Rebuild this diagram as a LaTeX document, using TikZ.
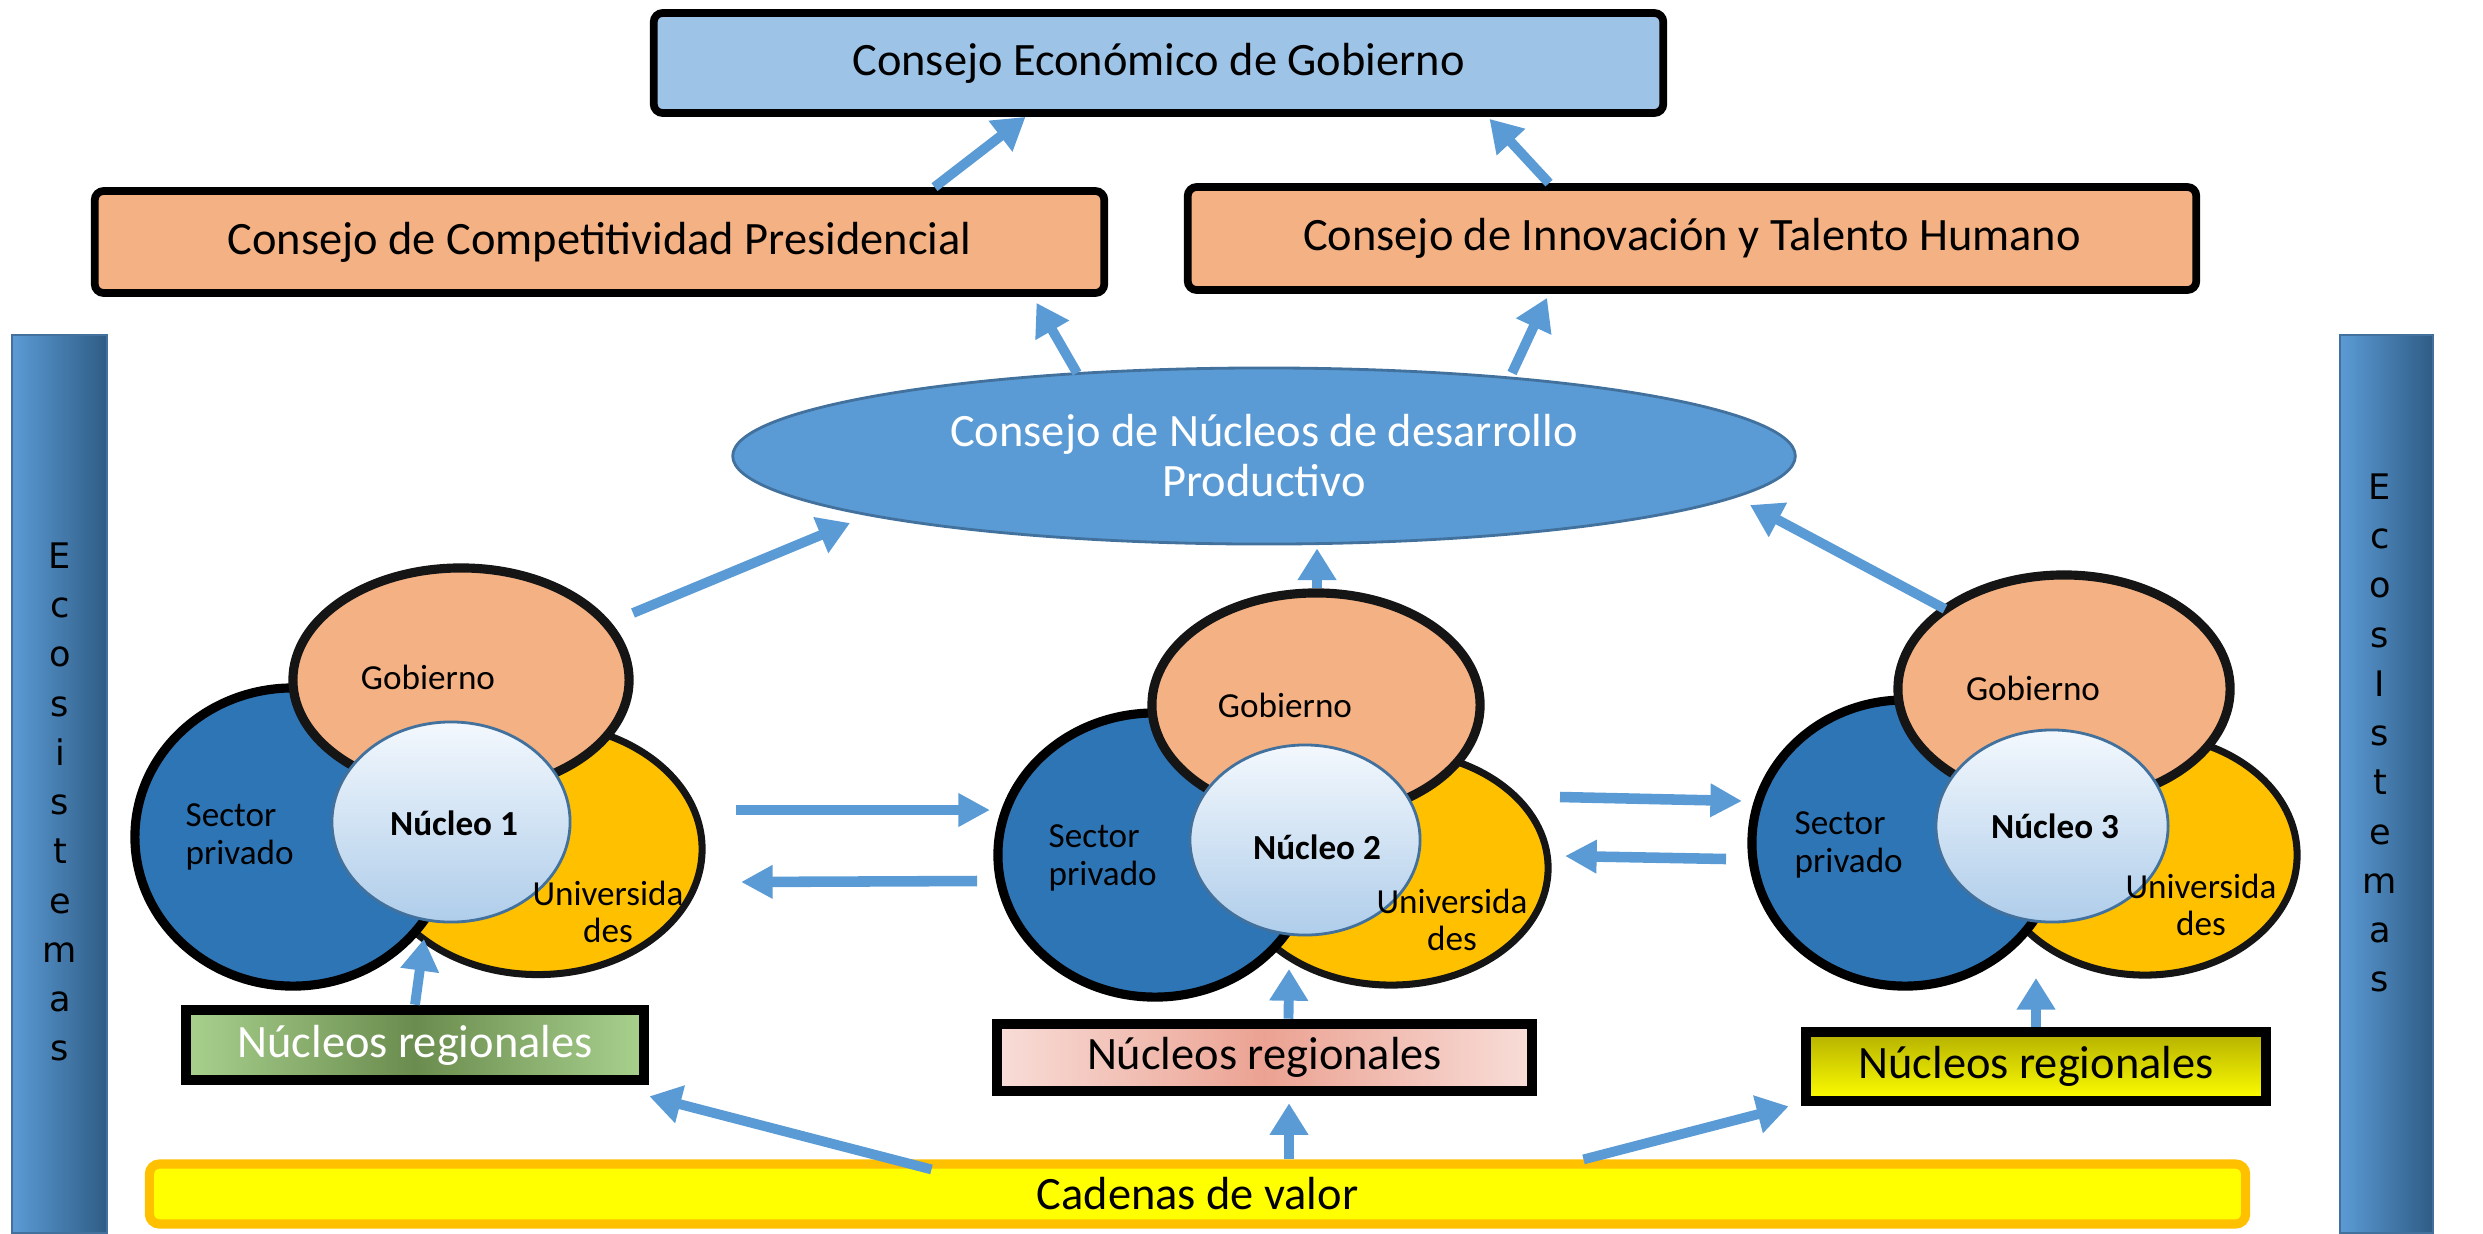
\documentclass[tikz,border=0pt]{standalone}
\usepackage{fontspec}
\setmainfont{Carlito}
\newfontfamily\ecofont{DejaVu Sans}
\usetikzlibrary{shapes.geometric,arrows.meta}
\definecolor{bluebox}{HTML}{9DC3E6}
\definecolor{orangebox}{HTML}{F4B183}
\definecolor{ellblue}{HTML}{5B9BD5}
\definecolor{ellborder}{HTML}{41719C}
\definecolor{secblue}{HTML}{2E75B6}
\definecolor{uniyellow}{HTML}{FFC000}
\definecolor{arrowblue}{HTML}{5B9BD5}
\definecolor{barleft}{HTML}{5B9BD5}
\definecolor{barright}{HTML}{2F5C85}
\definecolor{nucTop}{HTML}{F3F8FD}
\definecolor{nucBot}{HTML}{AFCDEA}
\definecolor{greenEdge}{HTML}{A9D18E}
\definecolor{greenMid}{HTML}{6A8C4E}
\definecolor{pinkEdge}{HTML}{F8DDD8}
\definecolor{pinkMid}{HTML}{EBA292}
\definecolor{oliveTop}{HTML}{B4B000}
\definecolor{yellowBot}{HTML}{FFFF00}
\definecolor{cadfill}{HTML}{FFFF00}
\definecolor{cadborder}{HTML}{FFC000}
\definecolor{outline}{HTML}{151515}
\begin{document}
\begin{tikzpicture}[x=0.01cm,y=-0.01cm,
  bigbox/.style={draw=black, line width=2.2pt, rounded corners=0.09cm, inner sep=0pt,
    font=\fontsize{13.2}{16}\selectfont},
  ecobar/.style={draw=ellborder, line width=0.6pt, left color=barleft, right color=barright, inner sep=0pt},
  ecotext/.style={font=\ecofont\fontsize{10}{14}\selectfont, align=center, inner sep=0pt},
  govell/.style={ellipse, draw=outline, line width=2.6pt, fill=orangebox, inner sep=0pt},
  secell/.style={ellipse, draw=black, line width=2.6pt, fill=secblue, inner sep=0pt},
  uniell/.style={ellipse, draw=outline, line width=2pt, fill=uniyellow, inner sep=0pt},
  nucell/.style={ellipse, draw=ellborder, line width=0.8pt, top color=nucTop, bottom color=nucBot, inner sep=0pt},
  smalltxt/.style={font=\fontsize{10}{11}\selectfont, inner sep=0pt},
  nuctxt/.style={font=\bfseries\fontsize{10}{11}\selectfont, inner sep=0pt},
  unitxt/.style={font=\fontsize{10}{10.5}\selectfont, align=center, inner sep=0pt},
  sectxt/.style={font=\fontsize{10}{11}\selectfont, align=left, anchor=west, inner sep=0pt},
  regbox/.style={draw=black, line width=3pt, inner sep=0pt, font=\fontsize{13.2}{16}\selectfont},
  flow/.style={draw=arrowblue, line width=2.8pt, line cap=butt, -{Triangle[length=9pt,width=10.5pt]}},
  flowh/.style={draw=arrowblue, line width=3pt, line cap=butt, -{Triangle[length=9pt,width=9pt]}}
]
\useasboundingbox (0,0) rectangle (2483,1233);

% side bars
\node[ecobar, minimum width=0.95cm, minimum height=8.98cm] (barL) at (59.5,784) {};
\node[ecobar, minimum width=0.93cm, minimum height=8.98cm] (barR) at (2386.5,784) {};
\node[ecotext] (ecoL) at (60,802) {E\\c\\o\\s\\i\\s\\t\\e\\m\\a\\s};
\node[ecotext] (ecoR) at (2380,733) {E\\c\\o\\s\\I\\s\\t\\e\\m\\a\\s};

% top boxes
\node[bigbox, fill=bluebox, minimum width=10.09cm, minimum height=1.0cm] (ceg) at (1158.5,63) {Consejo Económico de Gobierno};
\node[bigbox, fill=orangebox, minimum width=10.09cm, minimum height=1.02cm] (comp) at (599.5,242) {Consejo de Competitividad Presidencial};
\node[bigbox, fill=orangebox, minimum width=10.08cm, minimum height=1.03cm] (inno) at (1692,238.5) {Consejo de Innovación y Talento Humano};

% central ellipse
\node[ellipse, draw=ellborder, line width=0.8pt, fill=ellblue, text=white, align=center, inner sep=0pt,
  minimum width=10.62cm, minimum height=1.76cm, font=\fontsize{13.2}{14.2}\selectfont] (cnd) at (1264,456)
  {Consejo de Núcleos de desarrollo\\Productivo};

% group 1
\node[uniell, minimum width=3.28cm, minimum height=2.51cm] (uni1) at (538,849) {};
\node[secell, minimum width=3.16cm, minimum height=2.98cm] (sec1) at (293,837) {};
\node[govell, minimum width=3.36cm, minimum height=2.24cm] (gob1) at (461,680) {};
\node[nucell, minimum width=2.38cm, minimum height=2.0cm] (nuc1) at (451,822) {};
\node[smalltxt] (gobT1) at (428,677) {Gobierno};
\node[sectxt] (secT1) at (185,837) {Sector\\privado};
\node[nuctxt] (nucT1) at (454,823) {Núcleo 1};
\node[unitxt] (uniT1) at (608,912) {Universida\\des};

% group 2
\node[uniell, minimum width=3.14cm, minimum height=2.34cm] (uni2) at (1391,868) {};
\node[secell, minimum width=3.14cm, minimum height=2.84cm] (sec2) at (1155,855) {};
\node[govell, minimum width=3.28cm, minimum height=2.24cm] (gob2) at (1316,705) {};
\node[nucell, minimum width=2.30cm, minimum height=1.90cm] (nuc2) at (1305,840) {};
\node[smalltxt] (gobT2) at (1285,705) {Gobierno};
\node[sectxt] (secT2) at (1048,858) {Sector\\privado};
\node[nuctxt] (nucT2) at (1317,847) {Núcleo 2};
\node[unitxt] (uniT2) at (1452,920) {Universida\\des};

% group 3
\node[uniell, minimum width=3.04cm, minimum height=2.40cm] (uni3) at (2145,855) {};
\node[secell, minimum width=3.06cm, minimum height=2.86cm] (sec3) at (1905,843) {};
\node[govell, minimum width=3.32cm, minimum height=2.28cm] (gob3) at (2064,689) {};
\node[nucell, minimum width=2.32cm, minimum height=1.92cm] (nuc3) at (2052,826) {};
\node[smalltxt] (gobT3) at (2033,688) {Gobierno};
\node[sectxt] (secT3) at (1794,845) {Sector\\privado};
\node[nuctxt] (nucT3) at (2055,826) {Núcleo 3};
\node[unitxt] (uniT3) at (2201,905) {Universida\\des};

% regional boxes
\node[regbox, left color=greenEdge, right color=greenEdge, middle color=greenMid, text=white,
  minimum width=4.58cm, minimum height=0.70cm] (box1) at (415,1045) {Núcleos regionales};
\node[regbox, left color=pinkEdge, right color=pinkEdge, middle color=pinkMid,
  minimum width=5.35cm, minimum height=0.67cm] (box2) at (1264.5,1057.5) {Núcleos regionales};
\node[regbox, top color=oliveTop, bottom color=yellowBot,
  minimum width=4.60cm, minimum height=0.69cm] (box3) at (2036,1066.5) {Núcleos regionales};

% value chain
\node[draw=cadborder, line width=2.6pt, fill=cadfill, rounded corners=0.1cm, inner sep=0pt,
  minimum width=20.95cm, minimum height=0.60cm, font=\fontsize{13.2}{16}\selectfont] (cad) at (1197.5,1194) {Cadenas de valor};

% arrows
\draw[flow] ([shift={(335,0)}]comp.north) -- ([shift={(-133,0)}]ceg.south);
\draw[flow] ([shift={(-143,0)}]inno.north) -- ([shift={(331,2)}]ceg.south);
\draw[flow] ([shift={(-187,-83)}]cnd.center) -- ([shift={(437,6)}]comp.south);
\draw[flow] ([shift={(248,-83)}]cnd.center) -- ([shift={(-145,4)}]inno.south);
\draw[flow] ([shift={(172,-67)}]gob1.center) -- ([shift={(-414,67)}]cnd.center);
\draw[flow] ([shift={(1,0)}]gob2.north) -- ([shift={(53,3)}]cnd.south);
\draw[flow] ([shift={(-119,-80)}]gob3.center) -- ([shift={(486,49)}]cnd.center);
\draw[flowh] ([shift={(198,-39)}]uni1.center) -- ([shift={(-165,-45)}]sec2.center);
\draw[flowh] ([shift={(-178,26)}]sec2.center) -- ([shift={(203,33)}]uni1.center);
\draw[flowh] ([shift={(169,-71)}]uni2.center) -- ([shift={(-163,-42)}]sec3.center);
\draw[flowh] ([shift={(-179,16)}]sec3.center) -- ([shift={(174,-12)}]uni2.center);
\draw[flow] (box1.north) -- ([shift={(131,102)}]sec1.center);
\draw[flow] ([shift={(24,0)}]box2.north) -- ([shift={(-102,101)}]uni2.center);
\draw[flow] (box3.north) -- ([shift={(-109,123)}]uni3.center);
\draw[flow] ([shift={(-266,10)}]cad.north) -- ([shift={(0,11)}]box1.south east);
\draw[flow] ([shift={(91.5,0)}]cad.north) -- ([shift={(24.5,7)}]box2.south);
\draw[flow] ([shift={(386,0)}]cad.north) -- ([shift={(-12,0)}]box3.south west);
\end{tikzpicture}
\end{document}
